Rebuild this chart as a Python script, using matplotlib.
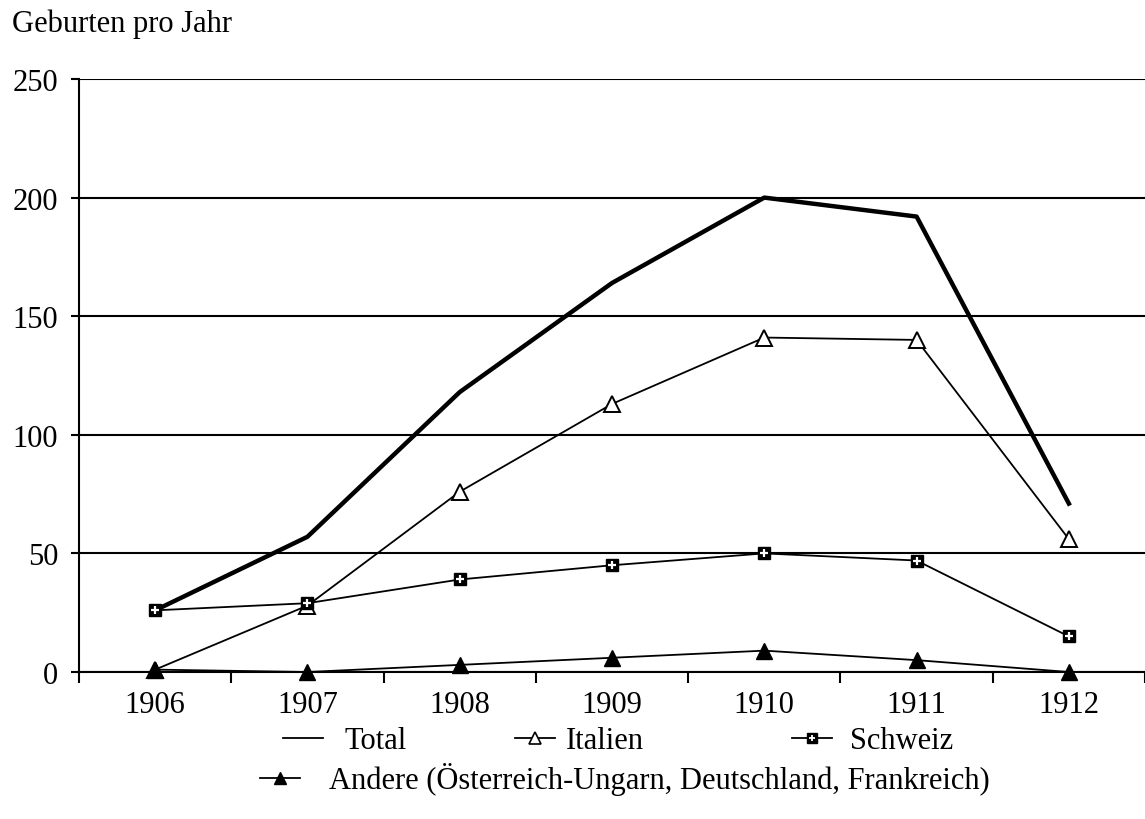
import matplotlib.pyplot as plt
from matplotlib.lines import Line2D

plt.rcParams["font.family"] = ["Liberation Serif", "DejaVu Serif"]

years = ["1906", "1907", "1908", "1909", "1910", "1911", "1912"]
total = [26, 57, 118, 164, 200, 192, 71]
italien = [1, 28, 76, 113, 141, 140, 56]
schweiz = [26, 29, 39, 45, 50, 47, 15]
andere = [1, 0, 3, 6, 9, 5, 0]
y_ticks = [0, 50, 100, 150, 200, 250]

W, H = 1145, 820
fig = plt.figure(figsize=(W / 100, H / 100), dpi=100)
ax = fig.add_axes([79 / W, 1 - 673 / H, 1 - 79 / W, (673 - 80) / H])

x = list(range(len(years)))

ax.plot(x, total, color="black", lw=3.2, zorder=3)
ax.plot(x, italien, color="black", lw=1.3, marker="^", ms=11,
        mfc="white", mec="black", mew=1.4, zorder=4, clip_on=False)
ax.plot(x, schweiz, color="black", lw=1.3, marker="s", ms=9,
        mfc="black", mec="black", zorder=5)
ax.plot(x, schweiz, ls="none", marker="+", ms=6, mec="white", mew=1.6, zorder=6)
ax.plot(x, andere, color="black", lw=1.3, marker="^", ms=11,
        mfc="black", mec="black", zorder=7, clip_on=False)

ax.set_xlim(-0.5, 6.44)
ax.set_ylim(0, 250)
ax.set_yticks(y_ticks)
ax.set_xticks(x)
ax.set_xticklabels(years)
ax.set_xticks([i - 0.5 for i in range(len(years) + 1)], minor=True)
ax.tick_params(axis="x", which="major", length=0, pad=13, labelsize=22)
ax.tick_params(axis="x", which="minor", length=8, width=1.5, direction="out")
ax.tick_params(axis="y", length=6, width=1.5, direction="out", pad=9, labelsize=22)

for s in ["top", "right"]:
    ax.spines[s].set_visible(False)
for s in ["left", "bottom"]:
    ax.spines[s].set_linewidth(1.5)
ax.yaxis.grid(True, color="black", lw=1.5)
ax.set_axisbelow(True)

fig.text(12 / W, 1 - 24 / H, "Geburten pro Jahr", fontsize=22, va="center", ha="left")

# legend handles
h_total = Line2D([], [], color="black", lw=1.3)
h_ital = Line2D([], [], color="black", lw=1.3, marker="^", ms=8,
                mfc="white", mec="black", mew=1.2)
h_sq = Line2D([], [], color="black", lw=1.3, marker="s", ms=7, mfc="black", mec="black")
h_pl = Line2D([], [], ls="none", marker="+", ms=4, mec="white", mew=1.3)
h_and = Line2D([], [], color="black", lw=1.3, marker="^", ms=9, mfc="black", mec="black")

entries = [
    (h_total, "Total", 283, 742, 0.7),
    (h_ital, "Italien", 515, 742, 0.35),
    ((h_sq, h_pl), "Schweiz", 792, 742, 0.6),
    (h_and, "Andere (Österreich-Ungarn, Deutschland, Frankreich)", 260, 780, 0.95),
]
for handle, label, px, py, tpad in entries:
    fig.legend([handle], [label], loc="center left",
               bbox_to_anchor=(px / W, 1 - py / H), frameon=False,
               fontsize=22, handlelength=1.3, handletextpad=tpad,
               borderpad=0, borderaxespad=0)

fig.savefig("out.png", dpi=100)
